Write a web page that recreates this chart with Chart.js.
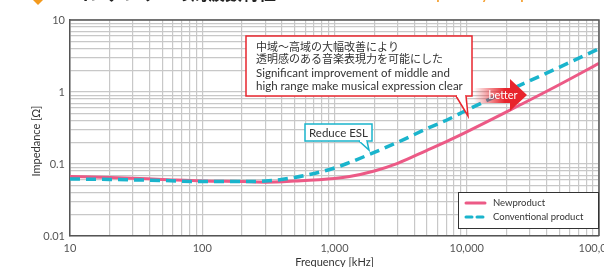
<!DOCTYPE html>
<html>
<head>
<meta charset="utf-8">
<script src="https://cdn.jsdelivr.net/npm/chart.js@4.4.0/dist/chart.umd.min.js"></script>
<style>
html, body { margin: 0; padding: 0; background: #fff; overflow: hidden; }
#wrap { position: relative; width: 630px; height: 275px; }
</style>
</head>
<body>
<div id="wrap"><canvas id="grafico" width="630" height="275"></canvas></div>
<script>
// dados
const frequencias = [10, 20, 50, 100, 200, 300, 500, 1000, 1300, 2000, 3000, 5000, 7400, 10000, 20000, 50000, 100000];
const novoProduto = [0.067, 0.065, 0.061, 0.058, 0.057, 0.056, 0.058, 0.063, 0.067, 0.080, 0.102, 0.155, 0.215, 0.28, 0.53, 1.26, 2.5];
const convencional = [0.062, 0.061, 0.059, 0.057, 0.057, 0.058, 0.065, 0.088, 0.105, 0.145, 0.20, 0.31, 0.425, 0.56, 1.02, 2.2, 4.0];
const nomesSeries = ['Newproduct', 'Conventional product'];
const rotulosX = ['10', '100', '1,000', '10,000', '100,000'];
const rotulosY = ['0.01', '0.1', '1', '10'];

const titulo = 'コンデンサーの周波数特性';
const tituloIngles = 'Frequency response';
const textoCaixa = ['中域〜高域の大幅改善により', '透明感のある音楽表現力を可能にした',
    'Significant improvement of middle and', 'high range make musical expression clear'];
const textoEsl = 'Reduce ESL';
const textoSeta = 'better';

const rosa = '#ec5a86';
const azul = '#1ab4cc';
const fonte = 'Lato, "Noto Sans CJK JP", sans-serif';

function marcasLog(min, max) {
    const marcas = [];
    for (let d = min; d < max; d *= 10) {
        for (let k = 1; k < 10; k++) marcas.push({ value: +(d * k).toPrecision(3) });
    }
    marcas.push({ value: max });
    return marcas;
}

function rotuloLog(v, rotulos, base) {
    const l = Math.log10(v);
    const e = Math.round(l);
    if (Math.abs(l - e) < 1e-6) return rotulos[e - base];
    return '';
}

function pontos(valores) {
    return frequencias.map((f, i) => ({ x: f, y: valores[i] }));
}

const anotacoes = {
    id: 'anotacoes',
    afterDatasetsDraw(chart) {
        const ctx = chart.ctx;
        const area = chart.chartArea;
        ctx.save();
        // moldura superior e direita
        ctx.strokeStyle = '#555';
        ctx.lineWidth = 1.5;
        ctx.beginPath();
        ctx.moveTo(area.left, area.top);
        ctx.lineTo(area.right, area.top);
        ctx.lineTo(area.right, area.bottom);
        ctx.stroke();

        // seta "better" (por cima das linhas)
        const g = ctx.createLinearGradient(474, 0, 505, 0);
        g.addColorStop(0, 'rgba(232,36,44,0)');
        g.addColorStop(1, 'rgba(232,36,44,1)');
        ctx.fillStyle = g;
        ctx.beginPath();
        ctx.moveTo(474, 88);
        ctx.lineTo(510, 88);
        ctx.lineTo(510, 79);
        ctx.lineTo(527, 95);
        ctx.lineTo(510, 111);
        ctx.lineTo(510, 103);
        ctx.lineTo(474, 103);
        ctx.closePath();
        ctx.fill();
        ctx.fillStyle = '#fff';
        ctx.font = '11px ' + fonte;
        ctx.textAlign = 'center';
        ctx.textBaseline = 'middle';
        ctx.fillText(textoSeta, 503, 95);

        // caixa vermelha
        ctx.fillStyle = '#fff';
        ctx.strokeStyle = '#e8262e';
        ctx.lineWidth = 1.5;
        ctx.fillRect(246, 36, 226, 60);
        ctx.strokeRect(246, 36, 226, 60);
        ctx.beginPath();
        ctx.moveTo(456, 96);
        ctx.lineTo(468, 116);
        ctx.lineTo(466, 96);
        ctx.fill();
        ctx.stroke();
        ctx.fillRect(457, 95, 8, 2);

        ctx.fillStyle = '#333';
        ctx.textAlign = 'left';
        ctx.textBaseline = 'middle';
        ctx.font = '11px "Noto Sans CJK JP", sans-serif';
        ctx.fillText(textoCaixa[0], 256, 47);
        ctx.fillText(textoCaixa[1], 256, 59);
        ctx.font = '11.5px ' + fonte;
        ctx.fillText(textoCaixa[2], 256, 73);
        ctx.fillText(textoCaixa[3], 256, 86);

        // caixa azul
        ctx.fillStyle = '#fff';
        ctx.strokeStyle = azul;
        ctx.fillRect(305, 124, 67, 17);
        ctx.strokeRect(305, 124, 67, 17);
        ctx.beginPath();
        ctx.moveTo(359, 141);
        ctx.lineTo(369, 150);
        ctx.lineTo(367, 141);
        ctx.fill();
        ctx.stroke();
        ctx.fillRect(360, 140, 6, 2);
        ctx.fillStyle = '#333';
        ctx.textAlign = 'center';
        ctx.font = '11.5px ' + fonte;
        ctx.fillText(textoEsl, 338.5, 133);
        ctx.restore();
    },
    afterDraw(chart) {
        const ctx = chart.ctx;
        ctx.save();
        // título (cortado no topo)
        ctx.fillStyle = '#f39a1e';
        ctx.beginPath();
        ctx.moveTo(38, -9);
        ctx.lineTo(45, -2);
        ctx.lineTo(38, 5);
        ctx.lineTo(31, -2);
        ctx.fill();
        ctx.fillStyle = '#222';
        ctx.font = 'bold 17px "Noto Sans CJK JP", sans-serif';
        ctx.textBaseline = 'alphabetic';
        ctx.fillText(titulo, 72, 0);
        ctx.fillStyle = '#f5a030';
        ctx.font = '19px ' + fonte;
        ctx.fillText(tituloIngles, 403, -1);

        // título do eixo y
        ctx.fillStyle = '#333';
        ctx.font = '11px ' + fonte;
        ctx.translate(36, 141);
        ctx.rotate(-Math.PI / 2);
        ctx.textAlign = 'center';
        ctx.textBaseline = 'middle';
        ctx.fillText('Impedance [Ω]', 0, 0);
        ctx.setTransform(1, 0, 0, 1, 0, 0);

        // legenda
        ctx.fillStyle = '#fff';
        ctx.strokeStyle = '#333';
        ctx.lineWidth = 1;
        ctx.fillRect(458.5, 192.5, 140, 36);
        ctx.strokeRect(458.5, 192.5, 140, 36);
        ctx.lineWidth = 3;
        ctx.lineCap = 'round';
        ctx.strokeStyle = rosa;
        ctx.beginPath();
        ctx.moveTo(466, 203);
        ctx.lineTo(485, 203);
        ctx.stroke();
        ctx.strokeStyle = azul;
        ctx.setLineDash([6, 5]);
        ctx.beginPath();
        ctx.moveTo(466, 217);
        ctx.lineTo(485, 217);
        ctx.stroke();
        ctx.setLineDash([]);
        ctx.fillStyle = '#333';
        ctx.font = '9.5px ' + fonte;
        ctx.textAlign = 'left';
        ctx.textBaseline = 'middle';
        ctx.fillText(nomesSeries[0], 493, 203);
        ctx.fillText(nomesSeries[1], 493, 217);
        ctx.restore();
    }
};

new Chart(document.getElementById('grafico'), {
    type: 'line',
    data: {
        datasets: [{
            label: nomesSeries[0],
            data: pontos(novoProduto),
            borderColor: rosa,
            borderWidth: 3,
            pointRadius: 0,
            cubicInterpolationMode: 'monotone',
            order: 1
        }, {
            label: nomesSeries[1],
            data: pontos(convencional),
            borderColor: azul,
            borderWidth: 3.5,
            borderDash: [10, 6],
            pointRadius: 0,
            cubicInterpolationMode: 'monotone',
            order: 0
        }]
    },
    options: {
        responsive: false,
        animation: false,
        layout: { padding: { top: 20, right: 31, left: 0, bottom: 0 } },
        plugins: {
            legend: { display: false },
            tooltip: { enabled: false }
        },
        scales: {
            x: {
                type: 'logarithmic',
                min: 10,
                max: 100000,
                afterBuildTicks: (s) => { s.ticks = marcasLog(10, 100000); },
                afterFit: (s) => { s.height = 39; },
                ticks: {
                    autoSkip: false,
                    maxRotation: 0,
                    padding: 6,
                    color: '#555',
                    font: { family: fonte, size: 11 },
                    callback: (v) => rotuloLog(v, rotulosX, 1)
                },
                grid: { color: '#c8c8c8', lineWidth: 1.2, drawTicks: false },
                border: { color: '#555', width: 1.5 },
                title: {
                    display: true,
                    text: 'Frequency [kHz]',
                    color: '#333',
                    font: { family: fonte, size: 11 },
                    padding: { top: 0, bottom: 6 }
                }
            },
            y: {
                type: 'logarithmic',
                min: 0.01,
                max: 10,
                afterBuildTicks: (s) => { s.ticks = marcasLog(0.01, 10); },
                afterFit: (s) => { s.width = 70; },
                ticks: {
                    autoSkip: false,
                    padding: 5,
                    color: '#555',
                    font: { family: fonte, size: 11 },
                    callback: (v) => rotuloLog(v, rotulosY, -2)
                },
                grid: { color: '#c8c8c8', lineWidth: 1.2, drawTicks: false },
                border: { color: '#555', width: 1.5 }
            }
        }
    },
    plugins: [anotacoes]
});
</script>
</body>
</html>
